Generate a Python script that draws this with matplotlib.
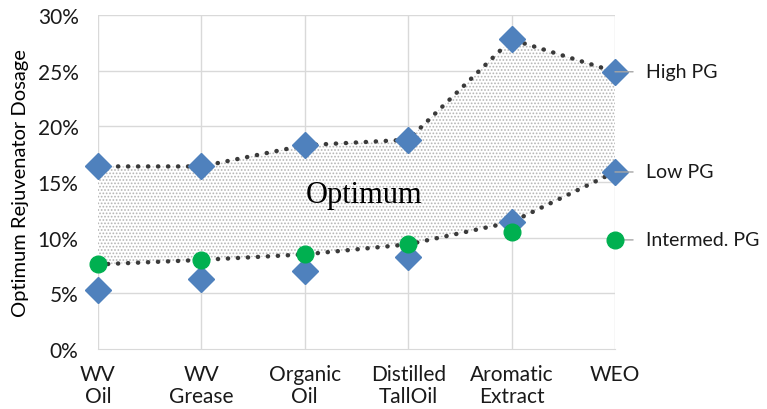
import numpy as np
import matplotlib
matplotlib.use("Agg")
import matplotlib.pyplot as plt
from matplotlib.ticker import PercentFormatter

categories = ["WV\nOil", "WV\nGrease", "Organic\nOil", "Distilled\nTallOil", "Aromatic\nExtract", "WEO"]
high_pg = [16.4, 16.4, 18.3, 18.8, 27.8, 24.9]
low_pg = [5.3, 6.3, 7.0, 8.3, 11.4, 15.9]
intermed_pg = [7.6, 8.0, 8.5, 9.4, 10.5, 9.8]

plt.rcParams['font.family'] = ['Lato', 'DejaVu Sans']
plt.rcParams['hatch.linewidth'] = 0.8

x = np.arange(len(categories))
lower_bound = np.maximum(low_pg, intermed_pg)

fig = plt.figure(figsize=(7.67, 4.10), dpi=100)
ax = fig.add_axes([98/767, 1 - 350/410, (615 - 98)/767, (350 - 16)/410])

grid_c = '#D9D9D9'
for v in range(5, 31, 5):
    ax.axhline(v, color=grid_c, lw=1, zorder=0)
for xi in x:
    ax.axvline(xi, color=grid_c, lw=1, zorder=0)

# shaded optimum band
ax.fill_between(x, lower_bound, high_pg, facecolor='white', edgecolor='#B4B4B4',
                hatch='.....', linewidth=0, zorder=1)
dot_style = dict(color='#3A3A3A', lw=3.2, ls=(0, (0.05, 2.2)), dash_capstyle='round', zorder=2)
ax.plot(x, high_pg, **dot_style)
ax.plot(x, lower_bound, **dot_style)

ax.plot(x, high_pg, 'D', color='#4F81BD', ms=13, ls='none', zorder=3, clip_on=False)
ax.plot(x, low_pg, 'D', color='#4F81BD', ms=13, ls='none', zorder=3, clip_on=False)
ax.plot(x, intermed_pg, 'o', color='#00B050', ms=12, ls='none', zorder=4, clip_on=False)

for vals, name in [(high_pg, 'High PG'), (low_pg, 'Low PG'), (intermed_pg, 'Intermed. PG')]:
    ax.annotate(name, (x[-1], vals[-1]), xytext=(22, 0), textcoords='offset points',
                va='center', ha='left', fontsize=14, color='#1A1A1A',
                arrowprops=dict(arrowstyle='-', color='#A6A6A6', lw=1,
                                shrinkA=7, shrinkB=0), annotation_clip=False)

ax.text(2.57, 13.9, 'Optimum', family='Liberation Serif', fontsize=22,
        ha='center', va='center', color='black', zorder=5)

ax.set_xlim(0, 5)
ax.set_ylim(0, 30)
ax.yaxis.set_major_formatter(PercentFormatter(decimals=0))
ax.set_yticks(range(0, 31, 5))
ax.set_xticks(x)
ax.set_xticklabels(categories, va='top', linespacing=1.12)
ax.tick_params(axis='both', labelsize=15, colors='#1A1A1A', length=0)
ax.tick_params(axis='x', pad=11)
ax.tick_params(axis='y', pad=14)
for s in ['top', 'right', 'left']:
    ax.spines[s].set_visible(False)
ax.spines['bottom'].set_color(grid_c)
ax.set_ylabel('Optimum Rejuvenator Dosage', fontsize=14.5, labelpad=6)

fig.savefig('out.png', dpi=100)
